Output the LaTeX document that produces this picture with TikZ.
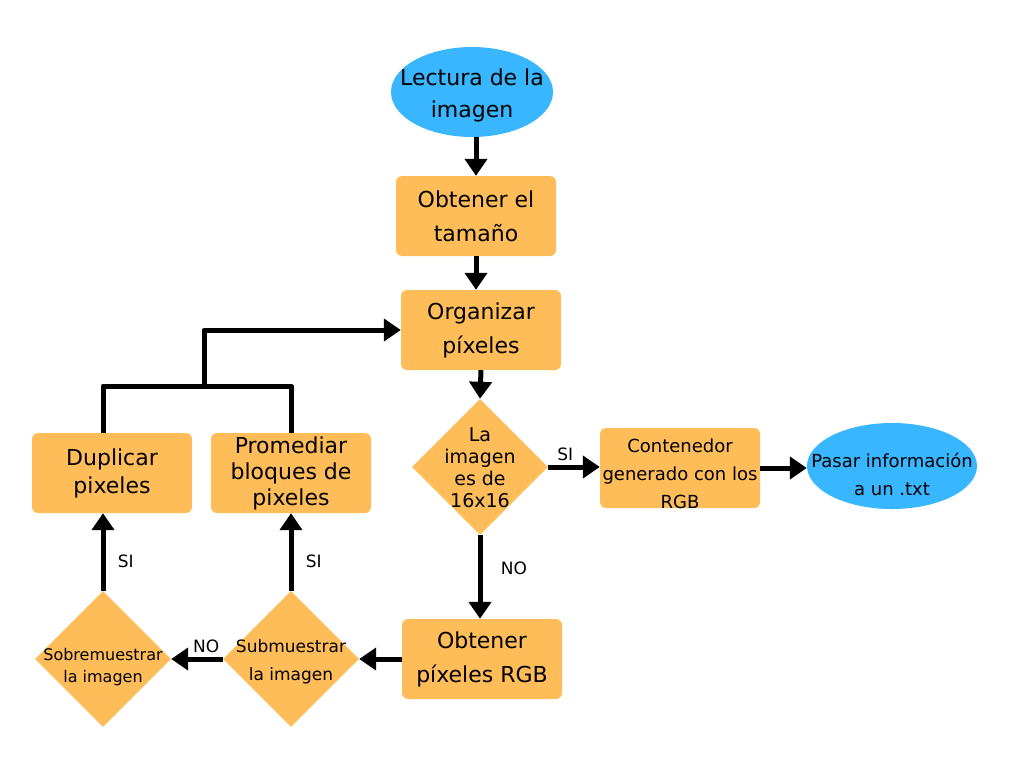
\documentclass[tikz,border=0pt]{standalone}
\usepackage{fontspec}
\setmainfont{DejaVu Sans}
\usetikzlibrary{shapes.geometric,arrows.meta}

\definecolor{naranja}{HTML}{FFBD59}
\definecolor{celeste}{HTML}{38B6FF}

\begin{document}
\begin{tikzpicture}[x=1pt,y=-1pt,
		caja/.style={rectangle,rounded corners=6pt,fill=naranja,minimum width=160pt,minimum height=80pt,inner sep=0pt,align=center,font=\fontsize{22}{34}\selectfont},
		rombo/.style={diamond,fill=naranja,minimum width=136pt,minimum height=136pt,inner sep=0pt},
		elipse/.style={ellipse,fill=celeste,inner sep=0pt},
		flecha/.style={line width=5pt,line join=round,-{Triangle[width=22pt,length=17pt]}},
		linea/.style={line width=5pt,line join=round},
		etiqueta/.style={font=\fontsize{17}{20}\selectfont}]
		
		\useasboundingbox (0,0) rectangle (1024,768);
		
		\node[elipse,minimum width=162pt,minimum height=90pt,label={[font=\fontsize{22}{32}\selectfont,align=center,yshift=-3pt]center:Lectura de la\\imagen}] (lectura) at (472,92) {};
		\node[caja] (tamano) at (476,216) {Obtener el\\tamaño};
		\node[caja] (organizar) at (481,330) {Organizar\\píxeles};
		\node[rombo,label={[font=\fontsize{19}{22}\selectfont,align=center,yshift=-1pt]center:La\\imagen\\es de\\16x16}] (es16) at (480,467) {};
		\node[caja,label={[font=\fontsize{18}{28}\selectfont,align=center,yshift=-6pt]center:Contenedor\\generado con los\\RGB}] (contenedor) at (680,468) {};
		\node[elipse,minimum width=170pt,minimum height=86pt,label={[font=\fontsize{18}{28}\selectfont,align=center,yshift=-8pt]center:Pasar información\\a un .txt}] (pasar) at (892,466) {};
		\node[caja] (rgb) at (482,659) {Obtener\\píxeles RGB};
		\node[rombo,label={[font=\fontsize{17}{28}\selectfont,align=center,yshift=-3pt]center:Submuestrar\\la imagen}] (submuestrar) at (291,659) {};
		\node[rombo,label={[font=\fontsize{16}{22}\selectfont,align=center,yshift=-8pt]center:Sobremuestrar\\la imagen}] (sobremuestrar) at (103,659) {};
		\node[caja,font=\fontsize{22}{26}\selectfont] (promediar) at (291,473) {Promediar\\bloques de\\pixeles};
		\node[caja,font=\fontsize{22}{28}\selectfont] (duplicar) at (112,473) {Duplicar\\pixeles};
		\coordinate (union) at (204,386);
		
		\draw[flecha] (lectura.south -| tamano) -- (tamano.north);
		\draw[flecha] (tamano.south) -- (tamano.south |- organizar.north);
		\draw[flecha] (organizar.south) -- (es16.north);
		\draw[flecha] (es16.east) -- node[etiqueta,above,pos=0.33] {SI} (es16.east -| contenedor.west);
		\draw[flecha] (contenedor.east) -- (contenedor.east -| pasar.west);
		\draw[flecha] (es16.south) -- node[etiqueta,right=15pt,pos=0.39] {NO} (es16.south |- rgb.north);
		\draw[flecha] (rgb.west) -- (submuestrar.east);
		\draw[flecha] (submuestrar.west) -- node[etiqueta,above,pos=0.32] {NO} (sobremuestrar.east);
		\draw[flecha] (submuestrar.north) -- node[etiqueta,right=9pt,pos=0.38] {SI} (submuestrar.north |- promediar.south);
		\draw[flecha] (sobremuestrar.north) -- node[etiqueta,right=9pt,pos=0.38] {SI} (sobremuestrar.north |- duplicar.south);
		
		\draw[linea] (sobremuestrar.north |- duplicar.north) -- (sobremuestrar.north |- union) -- (union -| promediar.north) -- (promediar.north);
		\draw[flecha] (union) -- (union |- organizar.west) -- (organizar.west);
		
\end{tikzpicture}
\end{document}
